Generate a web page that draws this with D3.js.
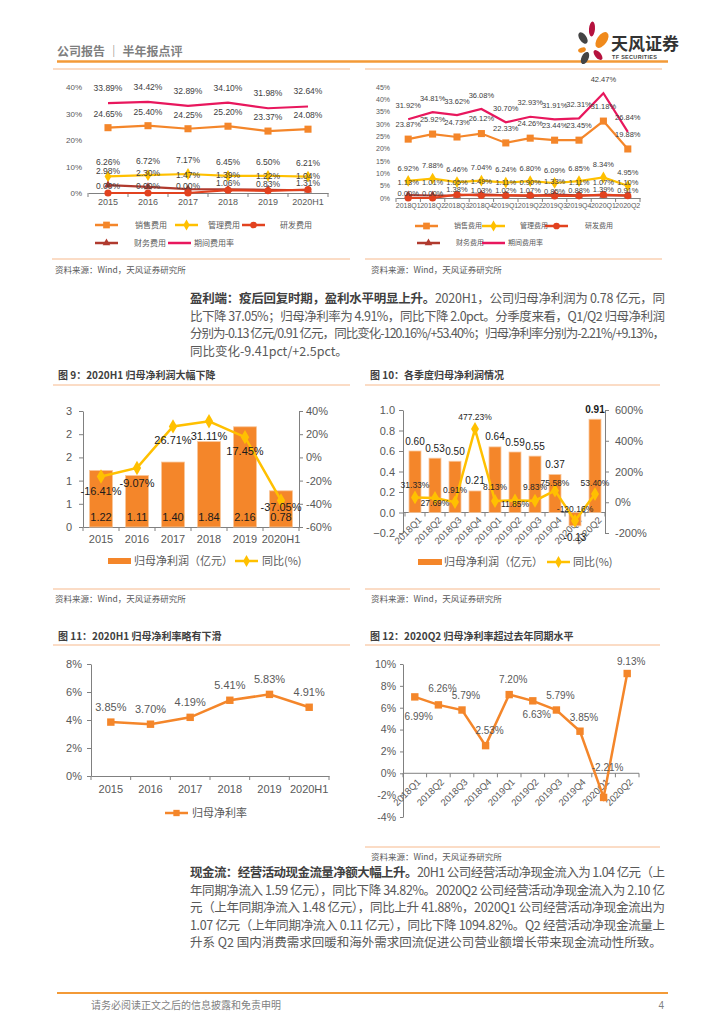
<!DOCTYPE html>
<html>
<head>
<meta charset="utf-8">
<script src="https://cdn.jsdelivr.net/npm/d3@7"></script>
<style>
  body { margin: 0; background: #fff; }
  svg { display: block; }
</style>
</head>
<body>
<svg id="page" width="724" height="1024"></svg>
<script>
// ---- data ----
const yearCats = ["2015", "2016", "2017", "2018", "2019", "2020H1"];
const quarterCats = ["2018Q1", "2018Q2", "2018Q3", "2018Q4", "2019Q1", "2019Q2", "2019Q3", "2019Q4", "2020Q1", "2020Q2"];

// expense ratios (%), yearly
const yrSales = [24.65, 25.40, 24.25, 25.20, 23.37, 24.08];
const yrAdmin = [6.26, 6.72, 7.17, 6.45, 6.50, 6.21];
const yrRnd = [0.00, 0.00, 0.00, 1.06, 0.83, 1.31];
const yrFin = [2.98, 2.30, 1.47, 1.39, 1.22, 1.04];
const yrPeriod = [33.89, 34.42, 32.89, 34.10, 31.98, 32.64];

// expense ratios (%), quarterly
const qSales = [23.87, 25.92, 24.73, 26.12, 22.33, 24.26, 23.44, 23.45, 31.18, 19.88];
const qAdmin = [6.92, 7.88, 6.46, 7.04, 6.24, 6.80, 6.09, 6.85, 8.34, 4.95];
const qRnd = [0.00, 0.00, 1.38, 1.03, 1.02, 1.07, 0.85, 0.88, 1.39, 0.91];
const qFin = [1.13, 1.01, 1.05, 1.49, 1.11, 0.90, 1.33, 1.11, 1.07, 1.10];
const qPeriod = [31.92, 34.81, 33.62, 36.08, 30.70, 32.93, 31.91, 32.31, 42.47, 26.84];

// net profit attributable (亿元) and yoy (%)
const yrProfit = [1.22, 1.11, 1.40, 1.84, 2.16, 0.78];
const yrProfitYoy = [-16.41, -9.07, 26.71, 31.11, 17.45, -37.05];
const qProfit = [0.60, 0.53, 0.50, 0.21, 0.64, 0.59, 0.55, 0.37, -0.13, 0.91];
const qProfitYoy = [31.33, 27.69, 0.91, 477.23, 8.13, 11.85, 9.83, 75.58, -120.16, 53.40];

// net margin (%)
const yrMargin = [3.85, 3.70, 4.19, 5.41, 5.83, 4.91];
const qMargin = [6.99, 6.26, 5.79, 2.53, 7.20, 6.63, 5.79, 3.85, -2.21, 9.13];

// label placement tweaks (layout only)
const yrYoyLabelDy = [15, 15, 14, 15, 14, 7];
const qYoyLabelDy = [-12, 5, -12, -12, -14, 4, -14, -8, -12, -11];
const qMarginLabelDy = [20, -16, -15, -15, -15, 14, -15, -14, -30, -12];

// ---- styles ----
const ORANGE = "#F4862A", YELLOW = "#FFC000", RED = "#E2421F", DARKRED = "#B03A2E", CRIMSON = "#E8175D";
const RULE = "#F7B98C", AXIS = "#808080", TXT = "#595959";
const NUM = '"Liberation Sans","Noto Sans CJK SC",sans-serif';
const CJK = '"Noto Sans CJK SC","Liberation Sans",sans-serif';

const svg = d3.select("#page").attr("font-family", NUM);

function styleAxis(a, fs) {
  a.attr("font-family", NUM).attr("font-size", fs);
  a.selectAll("text").attr("fill", TXT);
  a.selectAll(".tick line").attr("stroke", AXIS);
  a.select(".domain").attr("stroke", AXIS);
}

function bandTicks(g, x, y0, len) {
  const r = x.range();
  for (let i = 0; i <= x.domain().length; i++) {
    const xx = r[0] + i * x.step();
    g.append("line").attr("x1", xx).attr("x2", xx).attr("y1", y0).attr("y2", y0 + len).attr("stroke", AXIS);
  }
}

function rule(x1, x2, y, color, w) {
  svg.append("line").attr("x1", x1).attr("x2", x2).attr("y1", y).attr("y2", y)
    .attr("stroke", color || RULE).attr("stroke-width", w || 1);
}

function cjkText(x, y, s, fs, opts) {
  opts = opts || {};
  return svg.append("text").attr("x", x).attr("y", y).attr("font-family", CJK)
    .attr("font-size", fs).attr("font-weight", opts.weight || 400)
    .attr("fill", opts.fill || TXT).attr("text-anchor", opts.anchor || "start").text(s);
}

function legendLine(g, x1, x2, y, color, sym, size, label, tx, fs) {
  g.append("line").attr("x1", x1).attr("x2", x2).attr("y1", y).attr("y2", y)
    .attr("stroke", color).attr("stroke-width", 2.5);
  if (sym) g.append("path").attr("transform", `translate(${(x1 + x2) / 2},${y})`)
    .attr("d", d3.symbol(sym, size)).attr("fill", color);
  g.append("text").attr("x", tx).attr("y", y).attr("dy", "0.35em").attr("font-family", CJK)
    .attr("font-size", fs).attr("fill", TXT).text(label);
}

// ---- header ----
cjkText(57, 56, "公司报告 ｜ 半年报点评", 12, { weight: 700, fill: "#7f7f7f" });
rule(57, 668, 61.5, "#F39A37", 2.5);

// logo
const logo = svg.append("g");
[
  { cx: 592, cy: 29, rx: 3, ry: 7.5, r: 5, c: "#B5123E" },
  { cx: 602, cy: 40, rx: 5, ry: 9, r: 35, c: "#F08A1C" },
  { cx: 583, cy: 38, rx: 3.5, ry: 6.5, r: -35, c: "#444" },
  { cx: 582, cy: 50, rx: 2.5, ry: 4, r: 70, c: "#F08A1C" },
  { cx: 585, cy: 58, rx: 3.5, ry: 6.5, r: 25, c: "#444" },
  { cx: 598, cy: 55, rx: 3, ry: 6, r: -40, c: "#B5123E" }
].forEach(p => logo.append("ellipse").attr("cx", p.cx).attr("cy", p.cy).attr("rx", p.rx).attr("ry", p.ry)
  .attr("transform", `rotate(${p.r},${p.cx},${p.cy})`).attr("fill", p.c));
cjkText(611, 50, "天风证券", 17, { weight: 700, fill: "#333" });
svg.append("text").attr("x", 612).attr("y", 59).attr("font-size", 5.5).attr("font-weight", 700)
  .attr("fill", "#444").attr("letter-spacing", 0.3).text("TF SECURITIES");

rule(53, 350, 69);
rule(365, 662, 69);

// ---- expense ratio line charts (top) ----
function costChart(o) {
  const g = svg.append("g");
  const x = d3.scaleBand().domain(o.cats).range(o.xr);
  const y = d3.scaleLinear().domain(o.yd).range(o.yr);
  const cx = d => x(d) + x.bandwidth() / 2;

  g.append("g").attr("transform", `translate(${o.xr[0]},0)`)
    .call(d3.axisLeft(y).tickValues(o.yticks).tickFormat(d => d + "%").tickSize(0).tickPadding(6))
    .call(a => { styleAxis(a, o.tickFs); a.select(".domain").remove(); });
  g.append("g").attr("transform", `translate(0,${y(0)})`)
    .call(d3.axisBottom(x).tickSize(0).tickSizeOuter(0).tickPadding(o.xPad))
    .call(a => styleAxis(a, o.xFs));
  bandTicks(g, x, y(0), 4);

  o.series.forEach(s => {
    const line = d3.line().x((v, i) => cx(o.cats[i])).y(v => y(v));
    g.append("path").datum(s.values).attr("d", line).attr("fill", "none")
      .attr("stroke", s.color).attr("stroke-width", 2.2);
    if (s.sym) g.selectAll(null).data(s.values).join("path")
      .attr("transform", (v, i) => `translate(${cx(o.cats[i])},${y(v)})`)
      .attr("d", d3.symbol(s.sym, s.size)).attr("fill", s.color);
  });
  o.series.forEach(s => {
    g.selectAll(null).data(s.values).join("text")
      .attr("x", (v, i) => cx(o.cats[i])).attr("y", v => y(v) + s.dy).attr("dy", "0.35em")
      .attr("text-anchor", "middle").attr("font-size", o.labelFs).attr("fill", "#404040")
      .text(v => v.toFixed(2) + "%");
  });

  const L = o.legend;
  legendLine(g, L[0], L[0] + 23, L.y1, ORANGE, d3.symbolSquare, 45, "销售费用", L[1], L.fs);
  legendLine(g, L[2], L[2] + 23, L.y1, YELLOW, d3.symbolDiamond, 35, "管理费用", L[3], L.fs);
  legendLine(g, L[4], L[4] + 23, L.y1, RED, d3.symbolCircle, 35, "研发费用", L[5], L.fs);
  legendLine(g, L[6], L[6] + 23, L.y2, DARKRED, d3.symbolTriangle, 25, "财务费用", L[7], L.fs);
  legendLine(g, L[8], L[8] + 23, L.y2, CRIMSON, null, 0, "期间费用率", L[9], L.fs);
}

costChart({
  cats: yearCats, xr: [88, 328], yd: [0, 40], yr: [193, 87], yticks: [0, 10, 20, 30, 40],
  tickFs: 8, xFs: 9, xPad: 6, labelFs: 8.5,
  series: [
    { values: yrPeriod, color: CRIMSON, dy: -15 },
    { values: yrSales, color: ORANGE, sym: d3.symbolSquare, size: 50, dy: -14 },
    { values: yrAdmin, color: YELLOW, sym: d3.symbolDiamond, size: 40, dy: -14 },
    { values: yrFin, color: DARKRED, sym: d3.symbolTriangle, size: 28, dy: -14 },
    { values: yrRnd, color: RED, sym: d3.symbolCircle, size: 40, dy: -7 }
  ],
  legend: Object.assign([95, 135, 175, 208, 242, 280, 95, 134, 168, 194], { y1: 225, y2: 243, fs: 8 })
});

costChart({
  cats: quarterCats, xr: [396, 640], yd: [0, 45], yr: [198, 87], yticks: d3.range(0, 46, 5),
  tickFs: 7, xFs: 7, xPad: 5, labelFs: 7.5,
  series: [
    { values: qPeriod, color: CRIMSON, dy: -14 },
    { values: qSales, color: ORANGE, sym: d3.symbolSquare, size: 50, dy: -15 },
    { values: qAdmin, color: YELLOW, sym: d3.symbolDiamond, size: 40, dy: -13 },
    { values: qFin, color: DARKRED, sym: d3.symbolTriangle, size: 28, dy: -13 },
    { values: qRnd, color: RED, sym: d3.symbolCircle, size: 40, dy: -5 }
  ],
  legend: Object.assign([415, 454, 482, 520, 545, 585, 417, 456, 482, 508], { y1: 226, y2: 243, fs: 7 })
});

rule(52, 350, 259);
rule(365, 662, 259);
cjkText(55, 273, "资料来源：Wind，天风证券研究所", 8.5);
cjkText(371, 273, "资料来源：Wind，天风证券研究所", 8.5);

// ---- paragraph helper (justified lines) ----
function para(x, w, y0, lh, lines) {
  lines.forEach((ln, i) => {
    const t = svg.append("text").attr("x", x).attr("y", y0 + i * lh)
      .attr("font-family", CJK).attr("font-size", 12.5).attr("fill", "#595959");
    if (ln.full) t.attr("textLength", w).attr("lengthAdjust", "spacing");
    if (ln.bold) t.append("tspan").attr("font-weight", 700).attr("fill", "#404040").text(ln.bold);
    t.append("tspan").text(ln.text);
  });
}

para(190, 475, 303, 17.5, [
  { bold: "盈利端：疫后回复时期，盈利水平明显上升。", text: "2020H1，公司归母净利润为 0.78 亿元，同", full: true },
  { text: "比下降 37.05%；归母净利率为 4.91%，同比下降 2.0pct。分季度来看，Q1/Q2 归母净利润", full: true },
  { text: "分别为-0.13 亿元/0.91 亿元，同比变化-120.16%/+53.40%；归母净利率分别为-2.21%/+9.13%，", full: true },
  { text: "同比变化-9.41pct/+2.5pct。" }
]);

// ---- figure titles ----
cjkText(58, 379, "图 9：2020H1 归母净利润大幅下降", 10, { weight: 700, fill: "#404040" });
cjkText(370, 379, "图 10：各季度归母净利润情况", 10, { weight: 700, fill: "#404040" });
rule(53, 350, 385);
rule(365, 660, 385);

// ---- fig 9: yearly profit bars + yoy line ----
(function () {
  const g = svg.append("g");
  const x = d3.scaleBand().domain(yearCats).range([83, 299]);
  const yL = d3.scaleLinear().domain([0, 2.5]).range([527, 411]);
  const yR = d3.scaleLinear().domain([-60, 40]).range([527, 411]);
  const cx = d => x(d) + x.bandwidth() / 2;
  const bw = x.bandwidth() * 0.64;

  g.append("g").attr("transform", "translate(83,0)")
    .call(d3.axisLeft(yL).tickValues(d3.range(0, 2.51, 0.5)).tickFormat(d => Math.round(d))
      .tickSize(4).tickSizeOuter(0).tickPadding(7))
    .call(a => styleAxis(a, 11));
  g.append("g").attr("transform", "translate(299,0)")
    .call(d3.axisRight(yR).tickValues(d3.range(-60, 41, 20)).tickFormat(d => d + "%")
      .tickSize(4).tickSizeOuter(0).tickPadding(3))
    .call(a => styleAxis(a, 11));
  g.append("g").attr("transform", "translate(0,527)")
    .call(d3.axisBottom(x).tickSize(0).tickSizeOuter(0).tickPadding(8))
    .call(a => styleAxis(a, 11));
  bandTicks(g, x, 527, 4);

  g.selectAll(null).data(yrProfit).join("rect")
    .attr("x", (v, i) => cx(yearCats[i]) - bw / 2).attr("width", bw)
    .attr("y", v => yL(v)).attr("height", v => yL(0) - yL(v))
    .attr("fill", ORANGE).attr("stroke", "#F9C79C").attr("stroke-width", 0.8);
  g.selectAll(null).data(yrProfit).join("text")
    .attr("x", (v, i) => cx(yearCats[i])).attr("y", yL(0) - 10).attr("dy", "0.35em")
    .attr("text-anchor", "middle").attr("font-size", 11).attr("fill", "#1a1a1a").text(v => v.toFixed(2));

  const line = d3.line().x((v, i) => cx(yearCats[i])).y(v => yR(v));
  g.append("path").datum(yrProfitYoy).attr("d", line).attr("fill", "none")
    .attr("stroke", YELLOW).attr("stroke-width", 2.5);
  g.selectAll(null).data(yrProfitYoy).join("path")
    .attr("transform", (v, i) => `translate(${cx(yearCats[i])},${yR(v)})`)
    .attr("d", d3.symbol(d3.symbolDiamond, 60)).attr("fill", YELLOW);
  g.selectAll(null).data(yrProfitYoy).join("text")
    .attr("x", (v, i) => cx(yearCats[i])).attr("y", (v, i) => yR(v) + yrYoyLabelDy[i]).attr("dy", "0.35em")
    .attr("text-anchor", "middle").attr("font-size", 11).attr("fill", "#1a1a1a").text(v => v.toFixed(2) + "%");

  g.append("rect").attr("x", 108).attr("y", 558).attr("width", 23).attr("height", 6).attr("fill", ORANGE);
  g.append("text").attr("x", 134).attr("y", 561).attr("dy", "0.35em").attr("font-family", CJK)
    .attr("font-size", 11).attr("fill", TXT).text("归母净利润（亿元）");
  legendLine(g, 235, 258, 561, YELLOW, d3.symbolDiamond, 40, "同比(%)", 262, 11);
})();

// ---- fig 10: quarterly profit bars + yoy line ----
(function () {
  const g = svg.append("g");
  const x = d3.scaleBand().domain(quarterCats).range([405, 605]);
  const yL = d3.scaleLinear().domain([-0.2, 1.0]).range([533, 410]);
  const yR = d3.scaleLinear().domain([-200, 600]).range([533, 410]);
  const cx = d => x(d) + x.bandwidth() / 2;
  const bw = 12;

  g.append("g").attr("transform", "translate(403,0)")
    .call(d3.axisLeft(yL).tickValues(d3.range(-0.2, 1.01, 0.2)).tickFormat(d3.format(".1f"))
      .tickSize(4).tickSizeOuter(0).tickPadding(4))
    .call(a => styleAxis(a, 11));
  g.append("g").attr("transform", "translate(605,0)")
    .call(d3.axisRight(yR).tickValues(d3.range(-200, 601, 200)).tickFormat(d => d + "%")
      .tickSize(4).tickSizeOuter(0).tickPadding(6))
    .call(a => styleAxis(a, 11));
  g.append("line").attr("x1", 403).attr("x2", 605).attr("y1", yL(0)).attr("y2", yL(0)).attr("stroke", AXIS);
  bandTicks(g, x, yL(0), 4);
  g.selectAll(null).data(quarterCats).join("text")
    .attr("transform", d => `translate(${cx(d) + 5},${yL(0) + 6}) rotate(-45)`)
    .attr("text-anchor", "end").attr("dy", "0.35em").attr("font-size", 9.5).attr("fill", TXT).text(d => d);

  g.selectAll(null).data(qProfit).join("rect")
    .attr("x", (v, i) => cx(quarterCats[i]) - bw / 2).attr("width", bw)
    .attr("y", v => Math.min(yL(v), yL(0))).attr("height", v => Math.abs(yL(0) - yL(v)))
    .attr("fill", ORANGE).attr("stroke", "#F9C79C").attr("stroke-width", 0.8);
  g.selectAll(null).data(qProfit).join("text")
    .attr("x", (v, i) => cx(quarterCats[i])).attr("y", v => v >= 0 ? yL(v) - 10 : yL(v) + 12).attr("dy", "0.35em")
    .attr("text-anchor", "middle").attr("font-size", 10).attr("fill", "#1a1a1a")
    .attr("font-weight", (v, i) => i === qProfit.length - 1 ? 700 : 400).text(v => v.toFixed(2));

  const line = d3.line().x((v, i) => cx(quarterCats[i])).y(v => yR(v));
  g.append("path").datum(qProfitYoy).attr("d", line).attr("fill", "none")
    .attr("stroke", YELLOW).attr("stroke-width", 2.5);
  g.selectAll(null).data(qProfitYoy).join("path")
    .attr("transform", (v, i) => `translate(${cx(quarterCats[i])},${yR(v)})`)
    .attr("d", d3.symbol(d3.symbolDiamond, 55)).attr("fill", YELLOW);
  g.selectAll(null).data(qProfitYoy).join("text")
    .attr("x", (v, i) => cx(quarterCats[i])).attr("y", (v, i) => yR(v) + qYoyLabelDy[i]).attr("dy", "0.35em")
    .attr("text-anchor", "middle").attr("font-size", 8.5).attr("fill", "#262626").text(v => v.toFixed(2) + "%");

  g.append("rect").attr("x", 418).attr("y", 559).attr("width", 24).attr("height", 6).attr("fill", ORANGE);
  g.append("text").attr("x", 444).attr("y", 562).attr("dy", "0.35em").attr("font-family", CJK)
    .attr("font-size", 11).attr("fill", TXT).text("归母净利润（亿元）");
  legendLine(g, 547, 570, 562, YELLOW, d3.symbolDiamond, 40, "同比(%)", 573, 11);
})();

rule(53, 350, 589);
rule(365, 660, 589);
cjkText(55, 602, "资料来源：Wind，天风证券研究所", 8.5);
cjkText(371, 602, "资料来源：Wind，天风证券研究所", 8.5);

cjkText(58, 640, "图 11：2020H1 归母净利率略有下滑", 10, { weight: 700, fill: "#404040" });
cjkText(370, 640, "图 12：2020Q2 归母净利率超过去年同期水平", 10, { weight: 700, fill: "#404040" });
rule(53, 350, 645);
rule(365, 660, 645);

// ---- fig 11: yearly margin ----
(function () {
  const g = svg.append("g");
  const x = d3.scaleBand().domain(yearCats).range([91, 329]);
  const y = d3.scaleLinear().domain([0, 8]).range([776, 664]);
  const cx = d => x(d) + x.bandwidth() / 2;

  g.append("g").attr("transform", "translate(91,0)")
    .call(d3.axisLeft(y).tickValues([0, 2, 4, 6, 8]).tickFormat(d => d + "%").tickSize(4).tickSizeOuter(0).tickPadding(5))
    .call(a => styleAxis(a, 11));
  g.append("g").attr("transform", "translate(0,776)")
    .call(d3.axisBottom(x).tickSize(0).tickSizeOuter(0).tickPadding(9))
    .call(a => styleAxis(a, 11));
  bandTicks(g, x, 776, 4);

  const line = d3.line().x((v, i) => cx(yearCats[i])).y(v => y(v));
  g.append("path").datum(yrMargin).attr("d", line).attr("fill", "none").attr("stroke", ORANGE).attr("stroke-width", 2.5);
  g.selectAll(null).data(yrMargin).join("path")
    .attr("transform", (v, i) => `translate(${cx(yearCats[i])},${y(v)})`)
    .attr("d", d3.symbol(d3.symbolSquare, 55)).attr("fill", ORANGE);
  g.selectAll(null).data(yrMargin).join("text")
    .attr("x", (v, i) => cx(yearCats[i])).attr("y", v => y(v) - 15).attr("dy", "0.35em")
    .attr("text-anchor", "middle").attr("font-size", 11).attr("fill", TXT).text(v => v.toFixed(2) + "%");

  legendLine(g, 165, 188, 813, ORANGE, d3.symbolSquare, 40, "归母净利率", 192, 11);
})();

// ---- fig 12: quarterly margin ----
(function () {
  const g = svg.append("g");
  const x = d3.scaleBand().domain(quarterCats).range([403, 639]);
  const y = d3.scaleLinear().domain([-4, 10]).range([817, 664]);
  const cx = d => x(d) + x.bandwidth() / 2;

  g.append("g").attr("transform", "translate(403,0)")
    .call(d3.axisLeft(y).tickValues(d3.range(-4, 11, 2)).tickFormat(d => d + "%").tickSize(3).tickSizeOuter(0).tickPadding(4))
    .call(a => styleAxis(a, 10.5));
  g.append("line").attr("x1", 403).attr("x2", 639).attr("y1", y(0)).attr("y2", y(0)).attr("stroke", AXIS);
  bandTicks(g, x, y(0), 4);
  g.selectAll(null).data(quarterCats).join("text")
    .attr("transform", d => `translate(${cx(d) + 4},${y(0) + 7}) rotate(-45)`)
    .attr("text-anchor", "end").attr("dy", "0.35em").attr("font-size", 9.5).attr("fill", TXT).text(d => d);

  const line = d3.line().x((v, i) => cx(quarterCats[i])).y(v => y(v));
  g.append("path").datum(qMargin).attr("d", line).attr("fill", "none").attr("stroke", ORANGE).attr("stroke-width", 2.5);
  g.selectAll(null).data(qMargin).join("path")
    .attr("transform", (v, i) => `translate(${cx(quarterCats[i])},${y(v)})`)
    .attr("d", d3.symbol(d3.symbolSquare, 55)).attr("fill", ORANGE);
  g.selectAll(null).data(qMargin).join("text")
    .attr("x", (v, i) => cx(quarterCats[i]) + 4).attr("y", (v, i) => y(v) + qMarginLabelDy[i]).attr("dy", "0.35em")
    .attr("text-anchor", "middle").attr("font-size", 10).attr("fill", TXT).text(v => v.toFixed(2) + "%");
})();

rule(365, 660, 847);
cjkText(371, 860, "资料来源：Wind，天风证券研究所", 8.5);

para(190, 475, 877, 17.5, [
  { bold: "现金流：经营活动现金流量净额大幅上升。", text: "20H1 公司经营活动净现金流入为 1.04 亿元（上", full: true },
  { text: "年同期净流入 1.59 亿元），同比下降 34.82%。2020Q2 公司经营活动净现金流入为 2.10 亿", full: true },
  { text: "元（上年同期净流入 1.48 亿元），同比上升 41.88%，2020Q1 公司经营活动净现金流出为", full: true },
  { text: "1.07 亿元（上年同期净流入 0.11 亿元），同比下降 1094.82%。Q2 经营活动净现金流量上", full: true },
  { text: "升系 Q2 国内消费需求回暖和海外需求回流促进公司营业额增长带来现金流动性所致。" }
]);

// ---- footer ----
rule(57, 668, 993, "#F39A37", 2);
cjkText(91, 1009, "请务必阅读正文之后的信息披露和免责申明", 10, { fill: "#7f7f7f" });
svg.append("text").attr("x", 664).attr("y", 1009).attr("text-anchor", "end").attr("font-size", 10).attr("fill", "#7f7f7f").text("4");
</script>
</body>
</html>
